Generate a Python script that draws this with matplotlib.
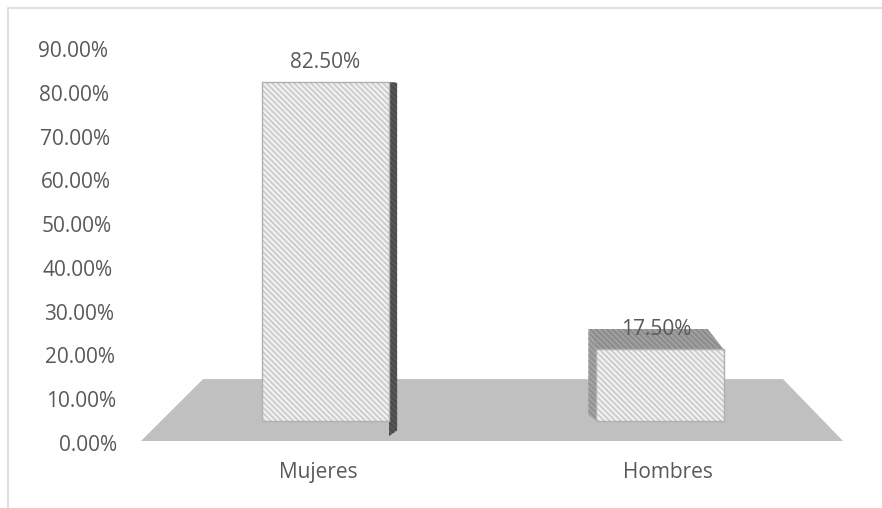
import matplotlib
matplotlib.use("Agg")
import matplotlib.pyplot as plt
from matplotlib.patches import Polygon, Rectangle
from matplotlib.transforms import blended_transform_factory, offset_copy

categories = ["Mujeres", "Hombres"]
values = [82.5, 17.5]
value_labels = ["82.50%", "17.50%"]
y_ticks = [0, 10, 20, 30, 40, 50, 60, 70, 80, 90]

# fake 3D look (Excel style)
BASE = 5.0         # bar front starts above floor edge
SCALE = 0.939      # front-plane height factor
HALF_W = 0.19
DX = 0.024         # side depth in x
DY = 4.6           # top depth in y
SPREAD = 1.046     # category labels sit on the front of the floor
AX_L, AX_W = 141, 702

TXT = "#595959"
plt.rcParams["font.family"] = ["Open Sans", "DejaVu Sans"]
plt.rcParams["hatch.linewidth"] = 1.6

fig = plt.figure(figsize=(8.82, 5.08), dpi=100)
ax = fig.add_axes([AX_L / 882, 65 / 508, AX_W / 882, 394 / 508])
ax.set_xlim(-0.5516, 1.547)
ax.set_ylim(0, 90)

# floor
floor = Polygon([(-0.5516, 0.46), (1.547, 0.46), (1.3677, 14.6), (-0.3662, 14.6)],
                closed=True, facecolor="#c0c0c0", edgecolor="none", zorder=1, clip_on=False)
ax.add_patch(floor)


def hatched(pts, face, hatch_col, border=None, z=2):
  ax.add_patch(Polygon(pts, closed=True, facecolor=face, edgecolor=hatch_col,
                       hatch="\\\\\\\\\\\\", linewidth=0, zorder=z, clip_on=False))
  if border:
    ax.add_patch(Polygon(pts, closed=True, fill=False, edgecolor=border,
                         linewidth=1.0, zorder=z + 0.1, clip_on=False))


for i, v in enumerate(values):
  x = i
  top = BASE + SCALE * v
  l, r = x - HALF_W, x + HALF_W
  if x < 0.5:
    # right side visible
    hatched([(r, top), (r + DX, top - 0.2), (r + DX, 2.9), (r, 1.6)],
            "#5a5a5a", "#4a4a4a", z=2)
  else:
    # left side + top face visible
    hatched([(l, top), (l - DX, top + DY), (l - DX, BASE + 1.4), (l, BASE)],
            "#a8a8a8", "#929292", z=2)
    hatched([(l, top), (r, top), (r - 2 * DX, top + DY), (l - DX, top + DY)],
            "#a3a3a3", "#8c8c8c", z=2)
  hatched([(l, BASE), (r, BASE), (r, top), (l, top)],
          "#f7f7f7", "#cfcfcf", border="#b0b0b0", z=3)
  ax.text(x - 0.01 * i, top + 4.5, value_labels[i], ha="center", va="center",
          fontsize=15, color=TXT, zorder=5)

# value axis labels lean with the back wall
ax.set_yticks([])
trans = offset_copy(blended_transform_factory(ax.transAxes, ax.transData),
                    fig=fig, y=-2.5, units="dots")
for t in y_ticks:
  right_px = 117 - 0.1 * t
  ax.text((right_px - AX_L) / AX_W, t, "%.2f%%" % t, transform=trans,
          ha="right", va="center", fontsize=15, color=TXT)

ax.set_xticks([0.5 + (i - 0.5) * SPREAD for i in range(len(categories))])
ax.set_xticklabels(categories)
ax.tick_params(axis="x", length=0, pad=14, labelsize=15, labelcolor=TXT)
for s in ax.spines.values():
  s.set_visible(False)
ax.patch.set_visible(False)

# chart-area border (only top and left are inside the crop)
fig.add_artist(Rectangle((8 / 882, -0.1), 1.2, 1.1 - 8 / 508, transform=fig.transFigure,
                         fill=False, edgecolor="#d9d9d9", linewidth=1.2))

fig.savefig("out.png", dpi=100)
